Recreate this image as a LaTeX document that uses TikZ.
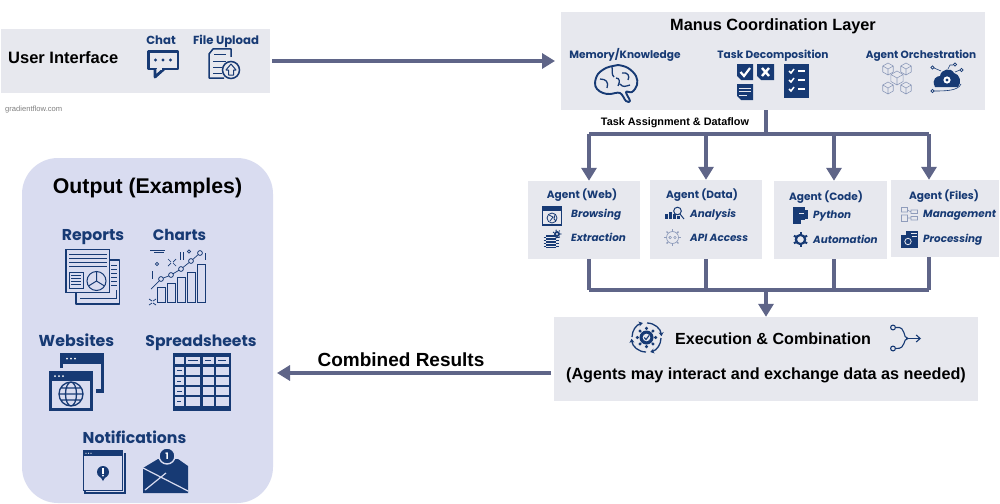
\documentclass[tikz,border=0pt]{standalone}
\usepackage{fontspec}
\setmainfont{Liberation Sans}
\newfontfamily\pop{Poppins}
\usetikzlibrary{arrows.meta}
\definecolor{navy}{HTML}{173A74}
\definecolor{panel}{HTML}{E7E8EE}
\definecolor{lav}{HTML}{D9DCF0}
\definecolor{link}{HTML}{5F6588}
\definecolor{soft}{HTML}{8F9CBB}
\tikzset{
 flow/.style={draw=link,line width=3.2pt,line cap=butt},
 flowa/.style={flow,-{Triangle[length=13pt,width=15pt]}},
 title/.style={font=\bfseries\fontsize{#1}{#1}\selectfont,text=black,inner sep=0pt,text height=#1*.9pt,text depth=#1*.2pt},
 head/.style={font=\pop\bfseries\fontsize{#1}{#1}\selectfont,text=navy,inner sep=0pt,text height=#1*.9pt,text depth=#1*.2pt},
 item/.style={font=\pop\bfseries\itshape\fontsize{10.4}{11}\selectfont,text=navy,anchor=west,inner sep=0pt,text height=9.36pt,text depth=2.08pt},
 ln/.style={draw=navy,line width=1pt},
 ln2/.style={draw=navy,line width=1.5pt},
 thin/.style={draw=soft,line width=.6pt},
 ringarc/.style={navy,line width=1.3pt,-{Stealth[length=4pt,width=5pt]}},
}
\newcommand{\gearshape}[4]{% x y r teeth
  \foreach \i in {1,...,#4}{\fill[navy] (#1,#2) ++({\i*360/#4}:#3*1.3pt) circle[radius=#3*.24pt];}
  \fill[navy] (#1,#2) circle[radius=#3*1pt];
}
\newcommand{\isocube}[3]{% x y r
  \draw[thin] (#1,#2-#3) -- (#1+.87*#3,#2-.5*#3) -- (#1+.87*#3,#2+.5*#3) -- (#1,#2+#3) -- (#1-.87*#3,#2+.5*#3) -- (#1-.87*#3,#2-.5*#3) -- cycle
   (#1,#2) -- (#1,#2+#3) (#1,#2) -- (#1+.87*#3,#2-.5*#3) (#1,#2) -- (#1-.87*#3,#2-.5*#3);
}
\newcommand{\doctile}[4]{% x0 y0 x1 y1 with folded corner
  \fill[navy] (#1,#2) -- (#3,#2) -- (#3,#4) -- (#1+4,#4) -- (#1,#4-4) -- cycle;
}
\begin{document}
\begin{tikzpicture}[x=1pt,y=-1pt]
\useasboundingbox (0,0) rectangle (1000,503);
\fill[white] (0,0) rectangle (1000,503);

% panels
\path[fill=panel] (1,29) rectangle (270,93);
\node[inner sep=0,minimum width=269pt,minimum height=64pt] (ui) at (135.5,61) {};
\fill[panel] (561,12) rectangle (985,110);
\node[inner sep=0,minimum width=424pt,minimum height=98pt] (manus) at (773,61) {};
\fill[panel] (528,181) rectangle (640,259);
\node[inner sep=0,minimum width=112pt,minimum height=78pt] (web) at (584,220) {};
\fill[panel] (650,180) rectangle (762,259);
\node[inner sep=0,minimum width=112pt,minimum height=79pt] (data) at (706,219.5) {};
\fill[panel] (774,181) rectangle (887,259);
\node[inner sep=0,minimum width=113pt,minimum height=78pt] (code) at (830.5,220) {};
\fill[panel] (891,180) rectangle (999,257);
\node[inner sep=0,minimum width=108pt,minimum height=77pt] (files) at (945,218.5) {};
\fill[panel] (554,317) rectangle (978,401);
\node[inner sep=0,minimum width=424pt,minimum height=84pt] (exec) at (766,359) {};
\fill[lav,rounded corners=36pt] (22,158) rectangle (273,503);
\node[inner sep=0,minimum width=251pt,minimum height=345pt] (output) at (147.5,330.5) {};

% connectors
\coordinate (busTop) at (766,134);
\coordinate (busBot) at (766,290);
\coordinate (tL) at (589,134); \coordinate (tD) at (706,134);
\coordinate (tC) at (834,134); \coordinate (tF) at (929,134);
\coordinate (bL) at (589,290); \coordinate (bD) at (706,290);
\coordinate (bC) at (834,290); \coordinate (bF) at (929,290);
\coordinate (uiOut) at (272,61);
\coordinate (manIn) at (555,61);
\draw[flowa] (uiOut) -- (manIn);
\draw[flow] (busTop |- manus.south) -- (busTop);
\draw[flow,line cap=square] (tL) -- (tF);
\draw[flowa] (tL) -- (tL |- web.north);
\draw[flowa] (tD) -- (tD |- data.north);
\draw[flowa] (tC) -- (tC |- code.north);
\draw[flowa] (tF) -- (tF |- files.north);
\draw[flow] (bL |- web.south) -- (bL);
\draw[flow] (bD |- data.south) -- (bD);
\draw[flow] (bC |- code.south) -- (bC);
\draw[flow] (bF |- files.south) -- (bF);
\draw[flow,line cap=square] (bL) -- (bF);
\draw[flowa] (busBot) -- (exec.north);
\coordinate (resOut) at (551,373);
\coordinate (resIn) at (277,373);
\draw[flowa] (resOut) -- (resIn);

% texts
\node[title=16.5,anchor=west] (tUI) at (8,58) {User Interface};
\node[head=11.7] (tChat) at (161,40) {Chat};
\node[head=11.7] (tUp) at (226,40) {File Upload};
\node[inner sep=0,anchor=west,text=gray,font=\fontsize{7.6}{8}\selectfont] (tGF) at (5,110) {gradientflow.com};
\node[title=16.3] (tManus) at (773,25) {Manus Coordination Layer};
\node[head=10.6] (tMem) at (625,55) {Memory/Knowledge};
\node[head=10.6] (tTask) at (773,55) {Task Decomposition};
\node[head=10.5] (tOrch) at (921,55) {Agent Orchestration};
\node[title=10.85] (tAssign) at (675,122) {Task Assignment \& Dataflow};
\node[head=10.6] (aW) at (582,195) {Agent (Web)};
\node[head=10.6] (aD) at (702,195) {Agent (Data)};
\node[head=10.6] (aC) at (826,197) {Agent (Code)};
\node[head=10.6] (aF) at (944,196) {Agent (Files)};
\node[item] (i1) at (571,213.5) {Browsing};
\node[item] (i2) at (571,238) {Extraction};
\node[item] (i3) at (690,213.5) {Analysis};
\node[item] (i4) at (690,238) {API Access};
\node[item] (i5) at (813,215) {Python};
\node[item] (i6) at (813,239.5) {Automation};
\node[item] (i7) at (923,214) {Management};
\node[item] (i8) at (923,238.5) {Processing};
\node[title=16.1] (tExec) at (773,339) {Execution \& Combination};
\node[title=16.2] (tAg) at (766,374) {(Agents may interact and exchange data as needed)};
\node[title=19] (tRes) at (401,360) {Combined Results};
\node[title=21.3] (tOut) at (147.5,186) {Output (Examples)};
\node[head=15.7] (oR) at (93,235) {Reports};
\node[head=15.2] (oC) at (179.5,235) {Charts};
\node[head=15.8] (oW) at (76.5,341) {Websites};
\node[head=15.6] (oS) at (201,341) {Spreadsheets};
\node[head=15.7] (oN) at (134.5,438) {Notifications};

% ---- chat icon
\draw[navy,line width=2.8pt,line join=round,fill=none] (148.5,51.5) rectangle (178,69);
\draw[navy,line width=2.8pt,line join=round,fill=panel] (155,69) -- (155,77) -- (164,69);
\draw[panel,line width=2pt] (156.7,69) -- (162,69);
\foreach \x in {155.5,163,170.5}{\fill[navy] (\x,60) circle[radius=1.6pt];}
% ---- upload icon
\draw[ln2,line join=round] (231,57) -- (231,49) -- (213,49) -- (209,54) -- (209,78) -- (224,78);
\draw[ln] (214,55) -- (226,55) (213,61) -- (226,61) (213,67) -- (222,67) (213,73) -- (222,73);
\draw[ln2,fill=panel] (231,70) circle[radius=8.5pt];
\draw[ln,line join=round] (231,64) -- (236,70) -- (233.5,70) -- (233.5,75) -- (228.5,75) -- (228.5,70) -- (226,70) -- cycle;

% ---- brain
\draw[navy,line width=1.9pt,line join=round] plot[smooth cycle,tension=.6] coordinates {(595,83) (598,74) (606,68) (613,66) (618,65) (628,68) (636,76) (637,85) (632,92) (626,92) (630,101) (626,101) (620,93) (610,94) (603,93) (597,89)};
\draw[navy,line width=1.3pt] (612,67) .. controls (613,72) and (611,74) .. (614,77)
 (622,73) .. controls (628,72) and (630,76) .. (628,80)
 (600,79) .. controls (606,79) and (609,82) .. (607,88)
 (620,84) .. controls (623,88) and (626,86) .. (630,85)
 (616,78) .. controls (620,78) and (620,82) .. (618,86);

% ---- task icons
\doctile{737}{64}{753}{80}
\draw[white,line width=2.2pt] (740.5,72) -- (744,76) -- (750,68);
\doctile{757}{64}{774}{80}
\draw[white,line width=2.4pt] (762,68) -- (769,76) (769,68) -- (762,76);
\doctile{737}{84}{753}{100}
\draw[panel,line width=.9pt] (739,88) -- (751,88) (739,91.5) -- (751,91.5) (739,95) -- (747,95);
\fill[navy] (784,64) rectangle (809,97.5);
\foreach \y in {71,80,89}{
  \draw[white,line width=1.5pt] (789,\y) -- (791,\y+2) -- (794,\y-2);
  \draw[white,line width=1.5pt] (798,\y) -- (805,\y);
}

% ---- cubes
\isocube{888}{69}{6}
\isocube{906}{69}{6}
\isocube{897}{78}{7}
\isocube{888}{88}{6}
\isocube{906}{88}{6}

% ---- cloud
\fill[navy] (935,87) .. controls (931,79) and (937,76) .. (940,76)
  .. controls (941,69) and (951,67) .. (954,73)
  .. controls (960,74) and (962,83) .. (958,87) -- cycle;
\fill[white] (947,80) circle[radius=3.6pt];
\fill[navy] (947,80) circle[radius=1.7pt];
\draw[navy,line width=.6pt] (941,71) -- (934,68) (948,69) -- (950,65) -- (953,65) (955,72) -- (960,70)
  (934,91) .. controls (945,91) and (958,91) .. (961,84);
\foreach \p in {(932.5,67.5),(955,64.5),(961.5,70),(932.5,91)}{\draw[navy,line width=.6pt,fill=panel] \p circle[radius=1.6pt];}

% ---- browser (web)
\draw[ln2] (542.5,206.5) rectangle (561.5,225);
\fill[navy] (542.5,206.5) rectangle (561.5,210.5);
\draw[navy,line width=.8pt] (552,218) circle[radius=5pt];
\draw[navy,line width=.8pt] (549,215) -- (553,217) -- (550,221) (555,214.5) -- (554,219) -- (556,221);
% ---- chip
\fill[navy] (546,235) rectangle (556,248);
\foreach \y in {237,240,243,246}{
  \draw[panel,line width=.6pt] (546,\y) -- (556,\y);
  \draw[navy,line width=.7pt] (543.5,\y) -- (546,\y) (556,\y) -- (558.5,\y);
}
\gearshape{557}{234}{3}{7}
\fill[panel] (557,234) circle[radius=1.2pt];
% ---- analysis
\foreach \x/\t in {665/214,669/212,673/214,677/216}{\fill[navy] (\x,\t) rectangle (\x+2.6,219);}
\draw[navy,line width=1pt] (677.5,211) circle[radius=3.8pt] (680,214) -- (684,219);
% ---- api gear
\draw[soft,line width=.7pt] (672.5,237.5) circle[radius=6pt];
\foreach \a in {0,45,...,315}{\draw[soft,line width=1.4pt] (672.5,237.5) ++(\a:6.4pt) -- ++(\a:2pt);}
\draw[soft,line width=.6pt] (670.2,237.5) circle[radius=1.3pt] (675,237.5) circle[radius=1.3pt];
% ---- python book
\fill[navy] (793,207) rectangle (805,220);
\fill[navy] (793,220) rectangle (801,224) ;
\fill[navy] (803,210) rectangle (808,219);
\draw[panel,line width=.7pt] (799,213) -- (804,213);
% ---- automation gear
\draw[navy,line width=2.2pt] (800.5,239.5) circle[radius=4.6pt];
\foreach \a in {30,90,...,330}{\draw[navy,line width=2pt] (800.5,239.5) ++(\a:5pt) -- ++(\a:2.6pt);}
% ---- management
\draw[thin] (901.5,207.5) rectangle (907.5,212) (901.5,215) rectangle (907.5,221.5) (911,210) rectangle (917.5,213.5) (911,216.5) rectangle (917.5,220) (907.5,210) -- (911,212) (907.5,218) -- (911,218);
% ---- processing
\fill[navy] (901,235) rectangle (918,247.5);
\fill[navy] (906,231) rectangle (918,235);
\draw[panel,line width=.6pt] (911,233) -- (917,233) (912,236) -- (917,236) ;
\draw[panel,line width=.8pt] (908,241.5) circle[radius=3.2pt];

% ---- exec gear
\gearshape{646.5}{337.5}{7}{8}
\fill[panel] (646.5,337.5) circle[radius=3.8pt];
\draw[navy,line width=1.1pt] (644.3,337.5) -- (646,339.5) -- (649,335.5);
\draw[ringarc] (632,337) arc[start angle=180,end angle=105,radius=14.5pt];
\draw[ringarc] (647,323) arc[start angle=90,end angle=5,radius=14.5pt];
\draw[ringarc] (661,338) arc[start angle=0,end angle=-75,radius=14.5pt];
\draw[ringarc] (646,352) arc[start angle=-90,end angle=-175,radius=14.5pt];
% ---- merge
\draw[navy,line width=1.1pt] (896,327.5) .. controls (907,326) and (902,338.5) .. (908,338.5) .. controls (902,338.5) and (907,349) .. (896,348.5);
\draw[navy,line width=1.1pt,-{Straight Barb[length=4pt,width=7pt]}] (906,338.5) -- (921,338.5);
\draw[navy,line width=1.1pt,fill=panel] (893,327.5) circle[radius=2.4pt] (893,348.5) circle[radius=2.4pt];

% ---- reports
\draw[ln2,line join=round] (110,260) -- (119.5,260) -- (119.5,304) -- (76,304) -- (76,293);
\draw[navy,line width=1pt] (80,298) -- (116,298) -- (116,290);
\draw[ln2,fill=lav] (66,249.5) rectangle (109.5,292.5);
\foreach \y in {254,258,262,266}{\draw[navy,line width=1pt] (69,\y) -- (107,\y);}
\draw[navy,line width=1pt] (69,272) rectangle (83,288);
\foreach \y in {275,278,281,284}{\draw[navy,line width=.8pt] (71,\y) -- (81,\y);}
\draw[navy,line width=1pt] (96.5,281) circle[radius=9.5pt];
\draw[navy,line width=1pt] (96.5,281) -- (96.5,272) (96.5,281) -- (88.5,286) (96.5,281) -- (104.5,286);
\foreach \y in {265,269,273,277,281,285}{\draw[navy,line width=.8pt] (111,\y) -- (117,\y);}

% ---- charts
\foreach \a/\t in {157/287,167/283,177/277,187/272,197/264}{\draw[navy,line width=.8pt] (\a,\t) rectangle (\a+8,302);}
\draw[navy,line width=.7pt] (151,289) -- (161,279) -- (171,275) -- (181,269) -- (191,261) -- (200,253);
\foreach \p in {(161,279),(171,275),(181,269),(191,261),(200,253)}{\draw[navy,line width=.8pt,fill=lav] \p circle[radius=2.4pt];}
\draw[navy,line width=.8pt] (150,250) -- (165,250) (154,252) -- (164,252) (152,271) -- (152,279) (180,252) -- (180,260) (183,252) -- (183,260) (205,253) -- (205,260);
\draw[navy,line width=.7pt] (157,264) circle[radius=1.6pt] (189,251.5) circle[radius=1.6pt];
\draw[navy,line width=.7pt] (168,259) -- (171,262) (176,259) -- (173,262) (168,266) -- (171,263) (176,266) -- (173,263);
\draw[navy,line width=.7pt] (149,299) -- (152,301) (156,299) -- (153,301) (149,305) -- (152,303) (156,305) -- (153,303);

% ---- websites
\fill[navy] (60,353) rectangle (104,393);
\fill[lav] (63,364) rectangle (101,389);
\fill[lav] (93,389) rectangle (96,393);
\foreach \x in {67,71,75}{\fill[white] (\x,358.5) circle[radius=1pt];}
\fill[lav] (46,368) rectangle (93,371);
\fill[lav] (93,368) rectangle (96,389);
\fill[navy] (49,371) rectangle (93,411);
\fill[lav] (52,381) rectangle (90,408);
\foreach \x in {55,59,63}{\fill[white] (\x,376) circle[radius=1pt];}
\draw[navy,line width=1.3pt] (71,394) circle[radius=12pt] (71,394) ellipse[x radius=5.5pt,y radius=12pt] (59,394) -- (83,394) (60.5,388) -- (81.5,388) (60.5,400) -- (81.5,400);

% ---- spreadsheet
\fill[navy] (173,353) rectangle (231,411);
\foreach \a/\b in {175/184,186/200,202.5/214,216/228.5}{
  \foreach \c/\d in {357/364,366.5/374.5,377/384.5,387/394.5,397/406}{
    \fill[lav] (\a,\c) rectangle (\b,\d);
  }
}
\draw[navy,line width=1pt] (188,360.5) -- (198,360.5) (205,360.5) -- (211,360.5) (218,360.5) -- (226,360.5)
 (177,370.5) -- (182,370.5) (177,381) -- (181,381) (177,391) -- (182,391) (177,401.5) -- (181,401.5);

% ---- notification window
\draw[navy,line width=1.3pt] (85,453) -- (85,493) -- (125,493) -- (125,453);
\draw[navy,line width=1.4pt,fill=lav] (83.5,451) rectangle (122.5,490.5);
\fill[navy] (83.5,451) rectangle (122.5,455.5);
\foreach \x in {86,88.5,91}{\fill[white] (\x,453.2) circle[radius=.7pt];}
\fill[navy] (103,472) circle[radius=6pt];
\fill[navy] (100,476) -- (106,476) -- (103,481) -- cycle;
\fill[white] (102,467.5) rectangle (104,473.5);
\fill[white] (103,475.5) circle[radius=1pt];

% ---- envelope
\fill[navy] (143,468) -- (158,459) -- (178,459) -- (188,466) -- (188,493) -- (143,493) -- cycle;
\draw[lav,line width=1.2pt] (143,468) -- (188,491) (166,473) -- (145,490);
\draw[lav,line width=1.4pt,fill=navy] (167,456) circle[radius=8pt];
\node[inner sep=0,text=white,font=\pop\bfseries\fontsize{9}{9}\selectfont] (envn) at (167,456) {1};
\end{tikzpicture}
\end{document}
